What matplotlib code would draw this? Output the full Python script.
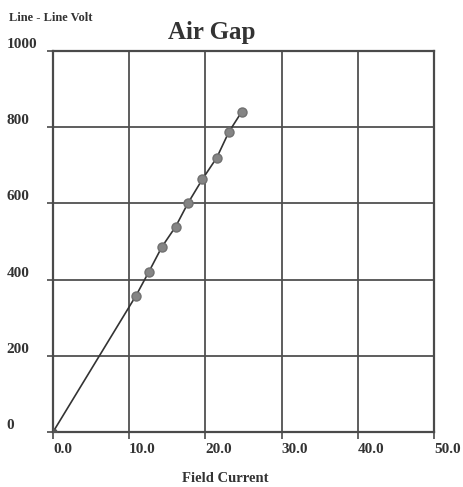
'''
Air gap line: line-to-line voltage against field current
'''

import matplotlib
matplotlib.use("Agg")
import matplotlib.pyplot as plt

field_current = [0.0, 10.9, 12.6, 14.3, 16.1, 17.7, 19.6, 21.5, 23.1, 24.8]
line_volt = [0, 358, 421, 486, 539, 600, 663, 720, 788, 841]

x_ticks = [0, 10, 20, 30, 40, 50]
y_ticks = [0, 200, 400, 600, 800, 1000]

plt.rcParams['font.family'] = ['Liberation Serif', 'DejaVu Serif']

fig = plt.figure(figsize=(4.63, 4.87), dpi=100)
ax = fig.add_axes([0.1145, 0.1129, 0.8225, 0.7824])

ax.plot(field_current, line_volt, color='#333333', lw=1.2, zorder=3)
ax.plot(field_current[1:], line_volt[1:], 'o', color='#858585', ms=6.5,
        mec='#707070', zorder=4)
ax.plot(field_current[0], line_volt[0], 'o', color='#555555', ms=5, zorder=4)

ax.set_xlim(0, 50)
ax.set_ylim(0, 1000)
ax.set_xticks(x_ticks)
ax.set_yticks(y_ticks)
ax.set_xticklabels(['%.1f' % v for v in x_ticks])
ax.set_yticklabels([str(v) for v in y_ticks])

ax.grid(True, color='#505050', lw=1.3)
ax.set_axisbelow(True)
for side in ['left', 'right', 'top', 'bottom']:
    ax.spines[side].set_color('#4a4a4a')
    ax.spines[side].set_linewidth(1.6)

ax.tick_params(axis='y', length=4, width=1.2, color='#4a4a4a', pad=0,
               labelsize=11)
ax.tick_params(axis='x', length=5, width=1.2, color='#4a4a4a', pad=3,
               labelsize=11)
for lab in ax.get_yticklabels():
    lab.set_horizontalalignment('left')
    lab.set_x(-0.108)
    lab.set_verticalalignment('bottom')
    lab.set_color('#333333')
    lab.set_fontweight('bold')
for lab in ax.get_xticklabels():
    lab.set_horizontalalignment('left')
    lab.set_color('#333333')
    lab.set_fontweight('bold')

fig.text(0.02, 0.963, 'Line - Line Volt', fontsize=9, fontweight='bold',
         color='#333333', va='center')
fig.text(0.458, 0.934, 'Air Gap', fontsize=18, fontweight='bold',
         color='#333333', ha='center', va='center')
fig.text(0.486, 0.018, 'Field Current', fontsize=10.5, fontweight='bold',
         color='#333333', ha='center', va='center')

fig.savefig('out.png', dpi=100)
